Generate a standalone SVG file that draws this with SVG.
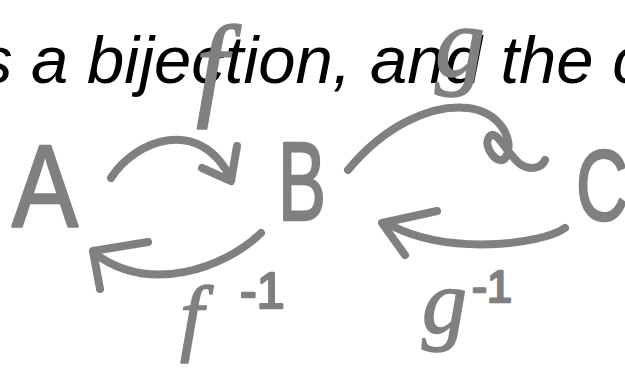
<svg xmlns="http://www.w3.org/2000/svg" width="625" height="375" viewBox="0 0 625 375">
<style>
.title{font-family:"Liberation Sans",Arial,sans-serif;font-style:italic;font-size:67px;fill:#000}
.hand{font-family:"Liberation Sans",Arial,sans-serif;fill:#808080;stroke:#808080;stroke-width:2.5;stroke-linejoin:round}
.math{font-family:"Liberation Serif","Times New Roman",serif;font-style:italic;fill:#808080;stroke:#808080;stroke-width:1.5;stroke-linejoin:round}
.ink{fill:none;stroke:#808080;stroke-width:8;stroke-linecap:round;stroke-linejoin:round}
</style>
<rect width="625" height="375" fill="#fff"/>
<text class="title" x="-21" y="83">s a bijection, and the c</text>
<g id="connectors">
  <g id="edge-f">
    <path class="ink" d="M111,178 C135,140 200,115 231,179"/>
    <path class="ink" d="M202,168 L231,181 L237,146"/>
  </g>
  <g id="edge-finv">
    <path class="ink" d="M261,233 C225,268 150,295 94,253"/>
    <path class="ink" d="M148,242 L93,251 L100,289"/>
  </g>
  <g id="edge-g">
    <path class="ink" d="M348,170 C385,125 432,104 468,108 C500,112 515,140 506,157 C499,168 482,147 489,137 C497,128 505,152 520,164 C530,171 542,168 545,160"/>
  </g>
  <g id="edge-ginv">
    <path class="ink" d="M565,228 C540,245 450,255 392,226"/>
    <path class="ink" d="M437,211 L382,223 L405,255"/>
  </g>
</g>
<g id="node-A"><text class="hand" x="12" y="227" font-size="116" textLength="66" lengthAdjust="spacingAndGlyphs">A</text></g>
<g id="node-B"><text class="hand" x="278" y="220" font-size="112" textLength="48" lengthAdjust="spacingAndGlyphs">B</text></g>
<g id="node-C"><text class="hand" x="576" y="220" font-size="100" textLength="52" lengthAdjust="spacingAndGlyphs">C</text></g>
<g id="label-f"><text class="math" x="212" y="105" font-size="115" text-anchor="middle">f</text></g>
<g id="label-g"><text class="math" x="460" y="76" font-size="100" text-anchor="middle">g</text></g>
<g id="label-finv"><text class="math" x="180" y="345" font-size="85">f<tspan class="hand" font-style="normal" x="240" y="308" font-size="50">-1</tspan></text></g>
<g id="label-ginv"><text class="math" x="422" y="333" font-size="90">g<tspan class="hand" font-style="normal" x="472" y="302" font-size="45">-1</tspan></text></g>
</svg>
